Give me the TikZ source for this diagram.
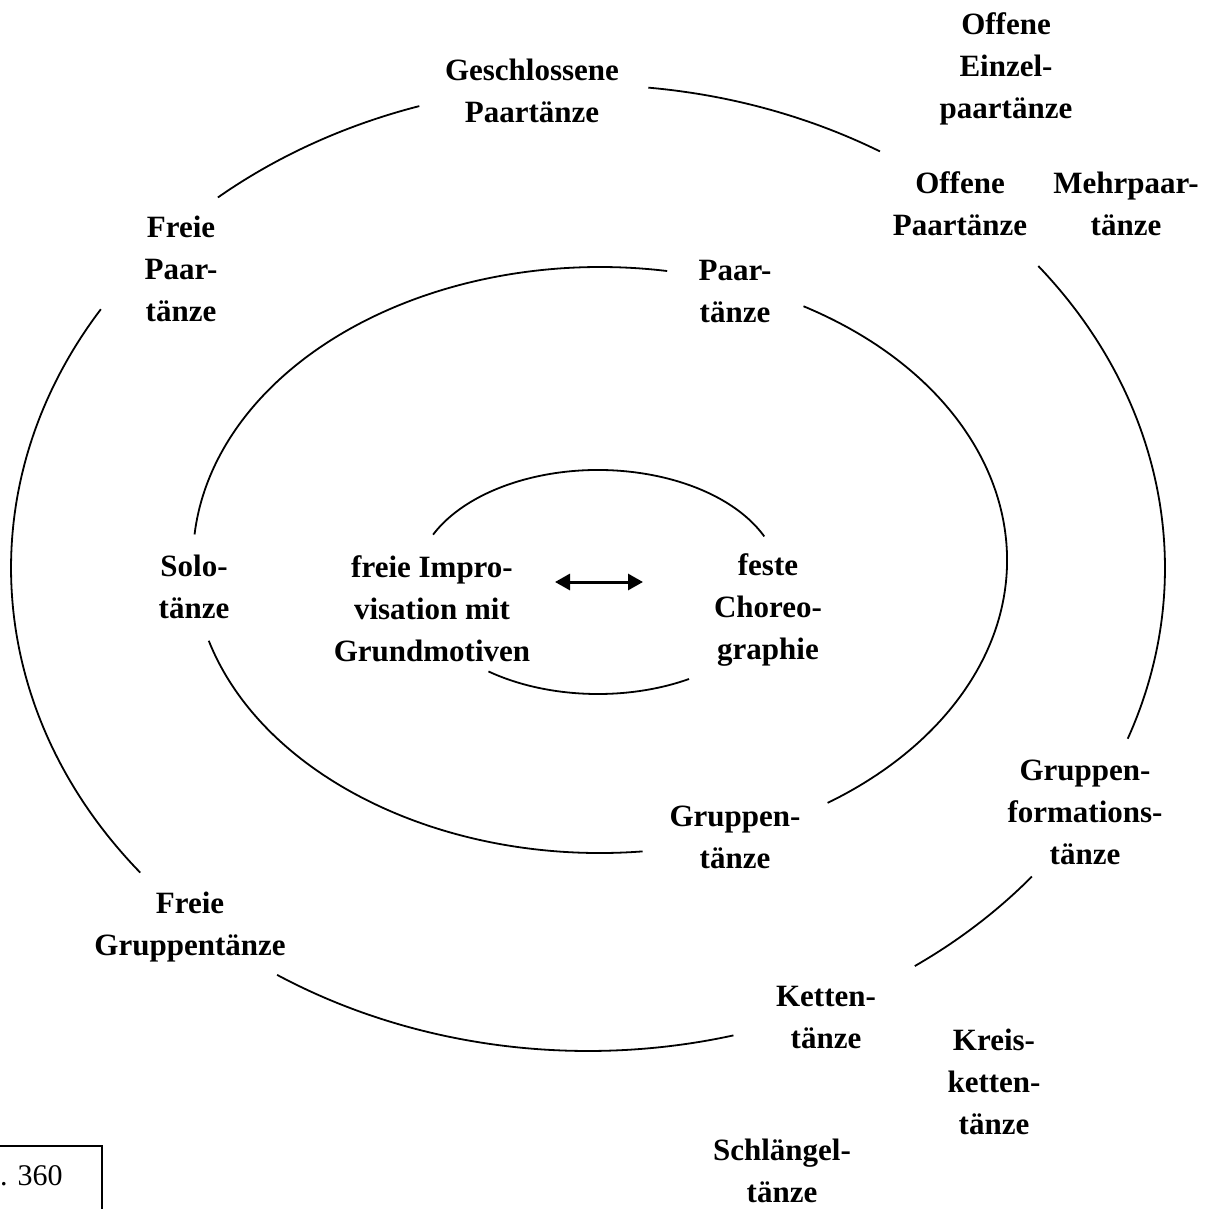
\documentclass[tikz,border=0pt]{standalone}
\usepackage{fontspec}
\setmainfont{Liberation Serif}
\usetikzlibrary{arrows.meta}
\begin{document}
\begin{tikzpicture}[x=1pt,y=1pt,
  lbl/.style={font=\fontsize{31}{42}\selectfont\bfseries, align=center, inner sep=0pt},
  ring/.style={line width=1.8pt},
  dbl/.style={line width=3pt, {Triangle[length=15pt,width=16pt]}-{Triangle[length=15pt,width=16pt]}}]
\useasboundingbox (0,0) rectangle (1221,-1209);
% inner ellipse
\draw[ring] (598,-582) ++(24:182pt and 112pt) arc[start angle=24, end angle=155, x radius=182pt, y radius=112pt];
\draw[ring] (598,-582) ++(233:182pt and 112pt) arc[start angle=233, end angle=300, x radius=182pt, y radius=112pt];
% middle ellipse
\draw[ring] (600,-560) ++(80.5:407pt and 293pt) arc[start angle=80.5, end angle=175, x radius=407pt, y radius=293pt];
\draw[ring] (600,-560) ++(60:407pt and 293pt) arc[start angle=60, end angle=-56, x radius=407pt, y radius=293pt];
\draw[ring] (600,-560) ++(196:407pt and 293pt) arc[start angle=196, end angle=276, x radius=407pt, y radius=293pt];
% outer ellipse
\draw[ring] (588,-568) ++(129.9:577pt and 483pt) arc[start angle=129.9, end angle=107, x radius=577pt, y radius=483pt];
\draw[ring] (588,-568) ++(84:577pt and 483pt) arc[start angle=84, end angle=59.6, x radius=577pt, y radius=483pt];
\draw[ring] (588,-568) ++(38.7:577pt and 483pt) arc[start angle=38.7, end angle=-20.7, x radius=577pt, y radius=483pt];
\draw[ring] (588,-568) ++(-39.7:577pt and 483pt) arc[start angle=-39.7, end angle=-55.5, x radius=577pt, y radius=483pt];
\draw[ring] (588,-568) ++(237.4:577pt and 483pt) arc[start angle=237.4, end angle=284.6, x radius=577pt, y radius=483pt];
\draw[ring] (588,-568) ++(147.6:577pt and 483pt) arc[start angle=147.6, end angle=219.1, x radius=577pt, y radius=483pt];
% labels
\node[lbl] (oez) at (1006,-69) {Offene\\Einzel-\\paartänze};
\node[lbl] (gpt) at (532,-91) {Geschlossene\\Paartänze};
\node[lbl] (opt) at (960,-204) {Offene\\Paartänze};
\node[lbl] (mpt) at (1126,-204) {Mehrpaar-\\tänze};
\node[lbl] (fpt) at (181,-269) {Freie\\Paar-\\tänze};
\node[lbl] (pt) at (735,-292) {Paar-\\tänze};
\node[lbl] (solo) at (194,-587) {Solo-\\tänze};
\node[lbl] (fim) at (432,-609) {freie Impro-\\visation mit\\Grundmotiven};
\node[lbl] (fch) at (768,-610) {feste\\Choreo-\\graphie};
\node[lbl] (gft) at (1085,-812) {Gruppen-\\formations-\\tänze};
\node[lbl] (gt) at (735,-837) {Gruppen-\\tänze};
\node[lbl] (fgt) at (190,-927) {Freie\\Gruppentänze};
\node[lbl] (kt) at (826,-1017) {Ketten-\\tänze};
\node[lbl] (kkt) at (994,-1082) {Kreis-\\ketten-\\tänze};
\node[lbl] (st) at (782,-1171) {Schlängel-\\tänze};
% arrow
\coordinate (arrL) at (555,-582);
\coordinate (arrR) at (643,-582);
\draw[dbl] (arrL) -- (arrR);
% page box
\coordinate (bx1) at (0,-1146);
\coordinate (bx2) at (102,-1146);
\coordinate (bx3) at (102,-1209);
\draw[line width=1.5pt] (bx1) -- (bx2) -- (bx3);
\node[font=\fontsize{30}{40}\selectfont, anchor=base west, inner sep=0pt] (pg) at (0,-1185) {. 360};
\end{tikzpicture}
\end{document}
